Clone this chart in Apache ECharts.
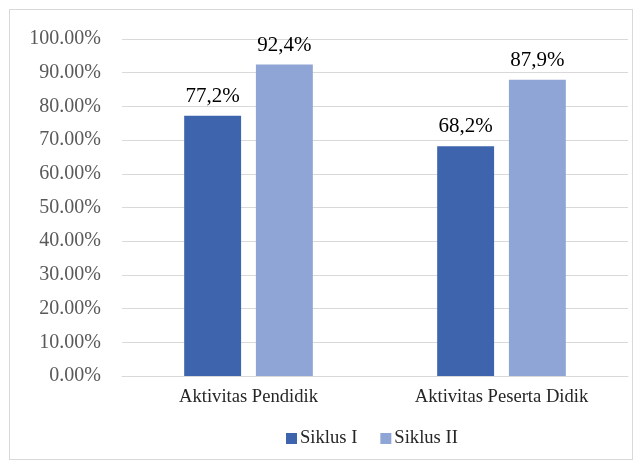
<!DOCTYPE html>
<html>
<head>
<meta charset="utf-8">
<script src="https://cdn.jsdelivr.net/npm/echarts@6/dist/echarts.min.js"></script>
<style>
html,body{margin:0;padding:0;background:#fff;}
#frame{position:absolute;left:9px;top:9px;width:624px;height:451px;border:1px solid #d9d9d9;box-sizing:border-box;}
#c{position:absolute;left:0;top:0;width:644px;height:470px;}
</style>
</head>
<body>
<div id="frame"></div>
<div id="c"></div>
<script>
const categories = ["Aktivitas Pendidik", "Aktivitas Peserta Didik"];
const seriesNames = ["Siklus I", "Siklus II"];
const siklus1 = [77.2, 68.2];
const siklus2 = [92.4, 87.9];
const colors = ["#3E64AD", "#8FA5D5"];

const font = "'Liberation Serif', 'Times New Roman', serif";
const chart = echarts.init(document.getElementById('c'), null, {renderer: 'canvas'});
const labelFmt = p => p.value.toFixed(1).replace('.', ',') + '%';
chart.setOption({
  animation: false,
  textStyle: {fontFamily: font},
  grid: {left: 122, right: 16, top: 39, bottom: 94, containLabel: false},
  legend: {
    data: seriesNames,
    bottom: 17,
    left: 281,
    itemWidth: 11, itemHeight: 11, itemGap: 23,
    icon: 'rect',
    textStyle: {fontFamily: font, fontSize: 18.6, color: '#262626', padding: [0,0,0,-2]}
  },
  xAxis: {
    type: 'category',
    data: categories,
    axisLine: {lineStyle: {color: '#d9d9d9', width: 1}},
    axisTick: {show: false},
    axisLabel: {fontFamily: font, fontSize: 18.6, color: '#262626', margin: 12}
  },
  yAxis: {
    type: 'value',
    min: 0, max: 100, interval: 10,
    axisLine: {show: false},
    axisTick: {show: false},
    splitLine: {lineStyle: {color: '#d9d9d9', width: 1}},
    axisLabel: {fontFamily: font, fontSize: 20, color: '#595959', margin: 21,
      formatter: v => v.toFixed(2) + '%'}
  },
  series: [
    {name: seriesNames[0], type: 'bar', data: siklus1, barWidth: '22.5%', barGap: '26%',
     itemStyle: {color: colors[0]},
     label: {show: true, position: 'top', distance: 9, fontFamily: font, fontSize: 21, color: '#000', formatter: labelFmt}},
    {name: seriesNames[1], type: 'bar', data: siklus2, barWidth: '22.5%',
     itemStyle: {color: colors[1]},
     label: {show: true, position: 'top', distance: 9, fontFamily: font, fontSize: 21, color: '#000', formatter: labelFmt}}
  ]
});
</script>
</body>
</html>
